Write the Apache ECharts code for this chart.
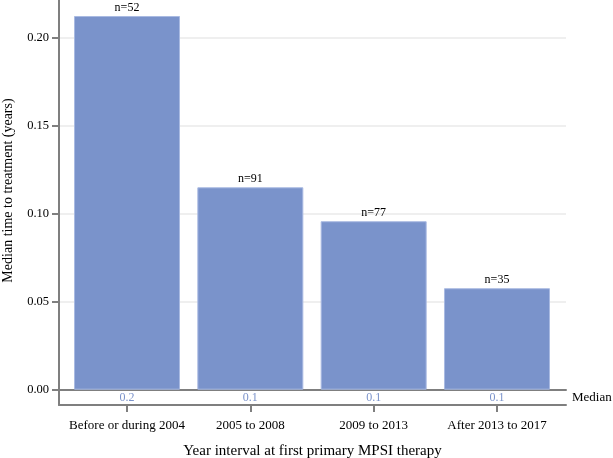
<!DOCTYPE html>
<html>
<head>
<meta charset="utf-8">
<script src="https://cdn.jsdelivr.net/npm/echarts@6/dist/echarts.min.js"></script>
<style>html,body{margin:0;padding:0;background:#fff}#c{width:613px;height:458px}</style>
</head>
<body>
<div id="c"></div>
<script>
const categories = ['Before or during 2004', '2005 to 2008', '2009 to 2013', 'After 2013 to 2017'];
const medianYears = [0.2125, 0.1151, 0.0958, 0.0577];
const medianLabels = ['0.2', '0.1', '0.1', '0.1'];
const nLabels = ['n=52', 'n=91', 'n=77', 'n=35'];
const yTicks = [0, 0.05, 0.10, 0.15, 0.20];

const FONT = 'Liberation Serif';
const GRAY = '#7f7f7f';
const catIdx = categories.map((c, i) => i);
const chart = echarts.init(document.getElementById('c'), null, {renderer: 'canvas'});
chart.setOption({
  backgroundColor: '#fff',
  animation: false,
  grid: {left: 59, right: 47, top: 0, bottom: 53, containLabel: false, outerBoundsMode: 'none'},
  xAxis: [
    {
      type: 'value',
      min: -0.5514,
      max: 3.5595,
      axisLine: {onZero: true, lineStyle: {color: GRAY, width: 2}},
      axisTick: {show: false},
      splitLine: {show: false},
      axisLabel: {color: '#7b93cb', fontFamily: FONT, fontSize: 12, margin: -13,
        customValues: catIdx, formatter: v => medianLabels[Math.round(v)]},
      name: 'Median',
      nameLocation: 'end',
      nameGap: 6,
      nameTextStyle: {color: '#000', fontFamily: FONT, fontSize: 13, verticalAlign: 'top', padding: [1, 0, 0, 0]}
    },
    {
      type: 'value',
      min: -0.5514,
      max: 3.5595,
      position: 'bottom',
      axisLine: {onZero: false, lineStyle: {color: GRAY, width: 2}},
      axisTick: {show: true, length: 7, customValues: catIdx, lineStyle: {color: GRAY, width: 2}},
      splitLine: {show: false},
      axisLabel: {color: '#000', fontFamily: FONT, fontSize: 13, margin: 14,
        customValues: catIdx, formatter: v => categories[Math.round(v)]},
      name: 'Year interval at first primary MPSI therapy',
      nameLocation: 'middle',
      nameGap: 39,
      nameTextStyle: {color: '#000', fontFamily: FONT, fontSize: 15}
    }
  ],
  yAxis: {
    type: 'value',
    min: -0.0087,
    max: 0.2216,
    axisLine: {show: true, onZero: false, lineStyle: {color: GRAY, width: 2}},
    axisTick: {show: true, length: 7, lineStyle: {color: GRAY, width: 2}, customValues: yTicks},
    axisLabel: {color: '#000', fontFamily: FONT, fontSize: 12.5, margin: 10, customValues: yTicks,
      formatter: v => v.toFixed(2)},
    splitLine: {show: true, lineStyle: {color: '#efefef', width: 2}, customValues: yTicks},
    name: 'Median time to treatment (years)',
    nameLocation: 'middle',
    nameGap: 44,
    nameTextStyle: {color: '#000', fontFamily: FONT, fontSize: 14, padding: [0, 0, 0, 24]}
  },
  series: [{
    type: 'bar',
    xAxisIndex: 0,
    data: medianYears.map((v, i) => [i, v]),
    barWidth: 106,
    itemStyle: {color: '#7a93cb', borderColor: '#a9bae2', borderWidth: 1},
    label: {
      show: true, position: 'top', distance: 2,
      color: '#000', fontFamily: FONT, fontSize: 12,
      formatter: p => nLabels[p.dataIndex]
    }
  }]
});
</script>
</body>
</html>
